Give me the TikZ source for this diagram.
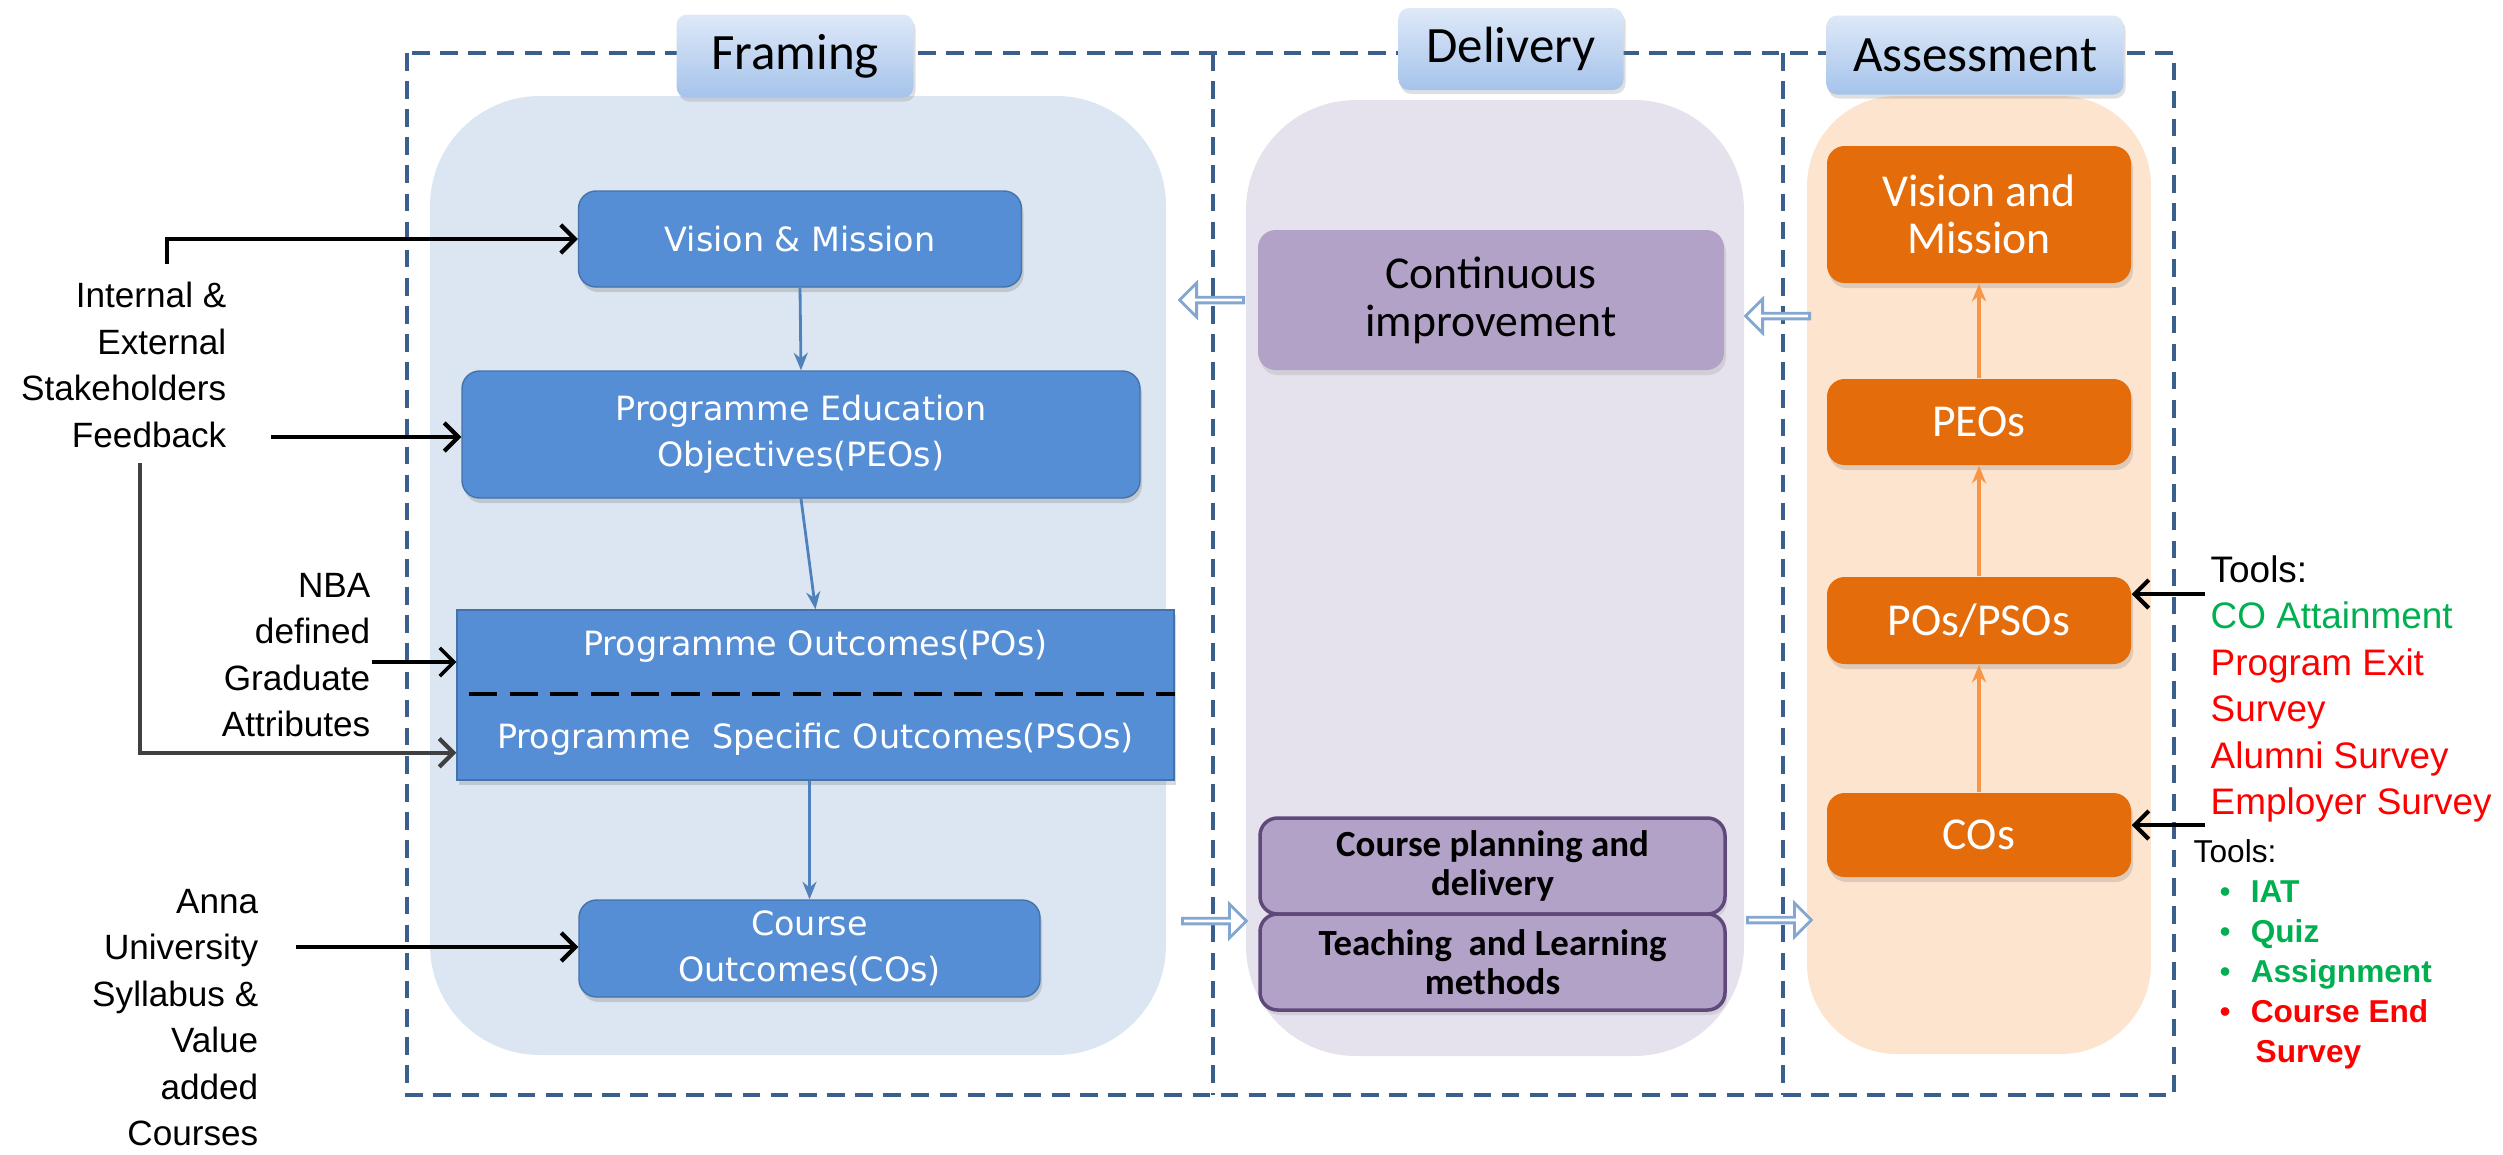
\documentclass[tikz,border=0pt]{standalone}
\usepackage{fontspec}
\setmainfont{Liberation Sans}
\newfontfamily\calibfont{Carlito}
\newfontfamily\tahfont{DejaVu Sans}
\usepackage{xcolor}
\usetikzlibrary{calc}
\usetikzlibrary{positioning}
\usetikzlibrary{shapes.arrows}
\usetikzlibrary{shadows}
\usetikzlibrary{arrows.meta}
\definecolor{frame-blue}{RGB}{58, 95, 140}
\definecolor{framing-bg}{RGB}{220, 230, 242}
\definecolor{delivery-bg}{RGB}{230, 226, 237}
\definecolor{assess-bg}{RGB}{253, 228, 207}
\definecolor{box-blue}{RGB}{85, 142, 213}
\definecolor{box-purple}{RGB}{179, 162, 199}
\definecolor{edge-purple}{RGB}{95, 73, 122}
\definecolor{box-orange}{RGB}{228, 108, 10}
\definecolor{line-orange}{RGB}{247, 150, 70}
\definecolor{line-blue}{RGB}{79, 129, 189}
\definecolor{head-top}{RGB}{222, 233, 248}
\definecolor{head-bot}{RGB}{165, 195, 235}
\definecolor{tool-green}{RGB}{0, 176, 80}
\definecolor{tool-red}{RGB}{255, 0, 0}
\newcommand{\toolitem}[2]{\hspace*{0.26cm}\textcolor{#1}{\textbullet}\hspace*{0.2cm}\textcolor{#1}{\bfseries #2}}

\begin{document}
\begin{tikzpicture}[
        bluebox/.style={rectangle, rounded corners=5pt, fill=box-blue, draw=box-blue!80!black, line width=0.4pt, text=white, align=center, inner sep=0pt, font=\tahfont\fontsize{9.5}{13}\selectfont, drop shadow={opacity=0.3, shadow xshift=0.02cm, shadow yshift=-0.05cm}},
        purplebox/.style={rectangle, rounded corners=5pt, fill=box-purple, align=center, inner sep=0pt, drop shadow={opacity=0.2, shadow xshift=0.02cm, shadow yshift=-0.05cm}},
        orangebox/.style={rectangle, rounded corners=5pt, fill=box-orange, text=white, align=center, inner sep=0pt, minimum width=3.04cm, font=\calibfont\fontsize{13}{13.5}\selectfont, drop shadow={opacity=0.25, shadow xshift=0.02cm, shadow yshift=-0.05cm}},
        headbox/.style={rectangle, rounded corners=3pt, top color=head-top, bottom color=head-bot, inner sep=0pt, font=\calibfont\fontsize{14.5}{16}\selectfont, drop shadow={opacity=0.25, shadow xshift=0.02cm, shadow yshift=-0.04cm}},
        sidetext/.style={anchor=east, align=right, inner sep=0pt, font=\fontsize{10}{13.2}\selectfont},
        flow/.style={line-blue, line width=0.8pt, -{Stealth[length=5pt, width=4pt]}},
        upflow/.style={line-orange, line width=1pt, -{Stealth[length=5pt, width=4pt]}},
        feed/.style={black, line width=1.2pt, -{Straight Barb[length=4pt, width=8pt]}},
        hollow/.style={single arrow, draw=line-blue!70, fill=white, line width=0.8pt, minimum height=0.64cm, minimum width=0.34cm, single arrow head extend=0.07cm, inner sep=0pt}
    ]
    \useasboundingbox (0, 0) rectangle (25.03, -11.54);

    \fill[framing-bg, rounded corners=1.1cm] (4.30, -0.96) rectangle (11.66, -10.55);
    \fill[delivery-bg, rounded corners=1.1cm] (12.46, -1.00) rectangle (17.44, -10.56);
    \fill[assess-bg, rounded corners=0.9cm] (18.07, -0.96) rectangle (21.51, -10.54);

    \draw[frame-blue, line width=1.1pt, dash pattern=on 5pt off 3pt] (4.07, -0.53) rectangle (21.74, -10.95);
    \draw[frame-blue, line width=1.1pt, dash pattern=on 5pt off 3pt] (12.13, -0.53) -- (12.13, -10.95);
    \draw[frame-blue, line width=1.1pt, dash pattern=on 5pt off 3pt] (17.83, -0.53) -- (17.83, -10.95);

    \node[headbox, minimum width=2.37cm, minimum height=0.83cm] (framing) at (7.95, -0.56) {Framing};
    \node[headbox, minimum width=2.25cm, minimum height=0.82cm] (delivery) at (15.11, -0.49) {Delivery};
    \node[headbox, minimum width=2.97cm, minimum height=0.79cm] (assessment) at (19.75, -0.55) {Assessment};

    % framing column
    \node[bluebox, minimum width=4.43cm, minimum height=0.96cm] (vm) at (8.00, -2.39) {Vision \& Mission};
    \node[bluebox, minimum width=6.78cm, minimum height=1.27cm] (peo) at (8.01, -4.345) {Programme Education\\Objectives(PEOs)};
    \node[bluebox, rounded corners=0pt, minimum width=7.17cm, minimum height=1.70cm] (po) at (8.155, -6.95) {};
    \node[text=white, font=\tahfont\fontsize{9.5}{13}\selectfont] (potext) at (8.155, -6.46) {Programme Outcomes(POs)};
    \node[text=white, font=\tahfont\fontsize{9.5}{13}\selectfont] (psotext) at (8.155, -7.39) {Programme\ \ Specific Outcomes(PSOs)};
    \draw[black, line width=1.2pt, dash pattern=on 8pt off 3.5pt] ([xshift=0.13cm]po.west |- 0, -6.94) -- (po.east |- 0, -6.94);
    \node[bluebox, minimum width=4.61cm, minimum height=0.97cm] (co) at (8.095, -9.485) {Course\\Outcomes(COs)};

    \draw[flow] (vm.south) -- (peo.north);
    \draw[flow] (peo.south) -- (po.north);
    \draw[flow] (co.north |- po.south) -- (co.north);

    % delivery column
    \node[purplebox, minimum width=4.66cm, minimum height=1.40cm, font=\calibfont\fontsize{13}{13.6}\selectfont] (ci) at (14.91, -3.00) {Continuous\\improvement};
    \node[purplebox, draw=edge-purple, line width=1pt, minimum width=4.65cm, minimum height=0.96cm, font=\calibfont\bfseries\fontsize{10.5}{11}\selectfont] (cpd) at (14.925, -8.66) {Course planning and\\delivery};
    \node[purplebox, draw=edge-purple, line width=1pt, minimum width=4.65cm, minimum height=0.96cm, font=\calibfont\bfseries\fontsize{10.5}{11}\selectfont] (tlm) at (14.925, -9.62) {Teaching\ \ and Learning\\methods};

    % assessment column
    \node[orangebox, minimum height=1.37cm] (avm) at (19.79, -2.145) {Vision and\\Mission};
    \node[orangebox, minimum height=0.86cm] (apeo) at (19.79, -4.22) {PEOs};
    \node[orangebox, minimum height=0.87cm] (apo) at (19.79, -6.205) {POs/PSOs};
    \node[orangebox, minimum height=0.84cm] (aco) at (19.79, -8.35) {COs};

    \draw[upflow] (aco.north) -- (apo.south);
    \draw[upflow] (apo.north) -- (apeo.south);
    \draw[upflow] (apeo.north) -- (avm.south);

    % hollow arrows between columns
    \node[hollow, shape border rotate=180] (backfd) at (12.13, -3.00) {};
    \node[hollow] (forwfd) at (12.13, -9.21) {};
    \node[hollow, shape border rotate=180] (backda) at (17.79, -3.16) {};
    \node[hollow] (forwda) at (17.78, -9.20) {};

    % inputs on the left
    \node[sidetext] (stake) at (2.27, -3.65) {Internal \&\\External\\Stakeholders\\Feedback};
    \node[sidetext] (nba) at (3.71, -6.55) {NBA\\defined\\Graduate\\Attributes};
    \node[sidetext] (anna) at (2.59, -10.175) {Anna\\University\\Syllabus \&\\Value\\added\\Courses};

    \coordinate (stakeTop) at (1.67, -2.64);
    \coordinate (stakeRight) at (2.71, -4.37);
    \coordinate (stakeLow) at (1.40, -4.63);
    \coordinate (nbaRight) at (3.72, -6.62);
    \coordinate (annaRight) at (2.96, -9.47);
    \draw[feed] (stakeTop) |- (vm.west);
    \draw[feed] (stakeRight) -- (stakeRight -| peo.west);
    \draw[feed, black!75] (stakeLow) |- ([yshift=0.28cm]po.south west);
    \draw[feed, line width=1pt] (nbaRight) -- (nbaRight -| po.west);
    \draw[feed] (annaRight) -- (annaRight -| co.west);

    % tools on the right
    \node[anchor=north west, align=left, inner sep=0pt, font=\fontsize{10.5}{13.2}\selectfont] (tools) at (22.10, -5.55) {Tools:\\
        \textcolor{tool-green}{CO Attainment}\\
        \textcolor{tool-red}{Program Exit}\\
        \textcolor{tool-red}{Survey}\\
        \textcolor{tool-red}{Alumni Survey}\\
        \textcolor{tool-red}{Employer Survey}};
    \node[anchor=north west, align=left, inner sep=0pt, font=\fontsize{9}{11.4}\selectfont] (ctools) at (21.93, -8.39) {Tools:\\
        \toolitem{tool-green}{IAT}\\
        \toolitem{tool-green}{Quiz}\\
        \toolitem{tool-green}{Assignment}\\
        \toolitem{tool-red}{Course End}\\
        \hspace*{0.62cm}\textcolor{tool-red}{\bfseries Survey}};

    \coordinate (toolsIn) at (22.05, -5.94);
    \coordinate (ctoolsIn) at (22.05, -8.25);
    \draw[feed] (toolsIn) -- (toolsIn -| apo.east);
    \draw[feed] (ctoolsIn) -- (ctoolsIn -| aco.east);
\end{tikzpicture}
\end{document}
